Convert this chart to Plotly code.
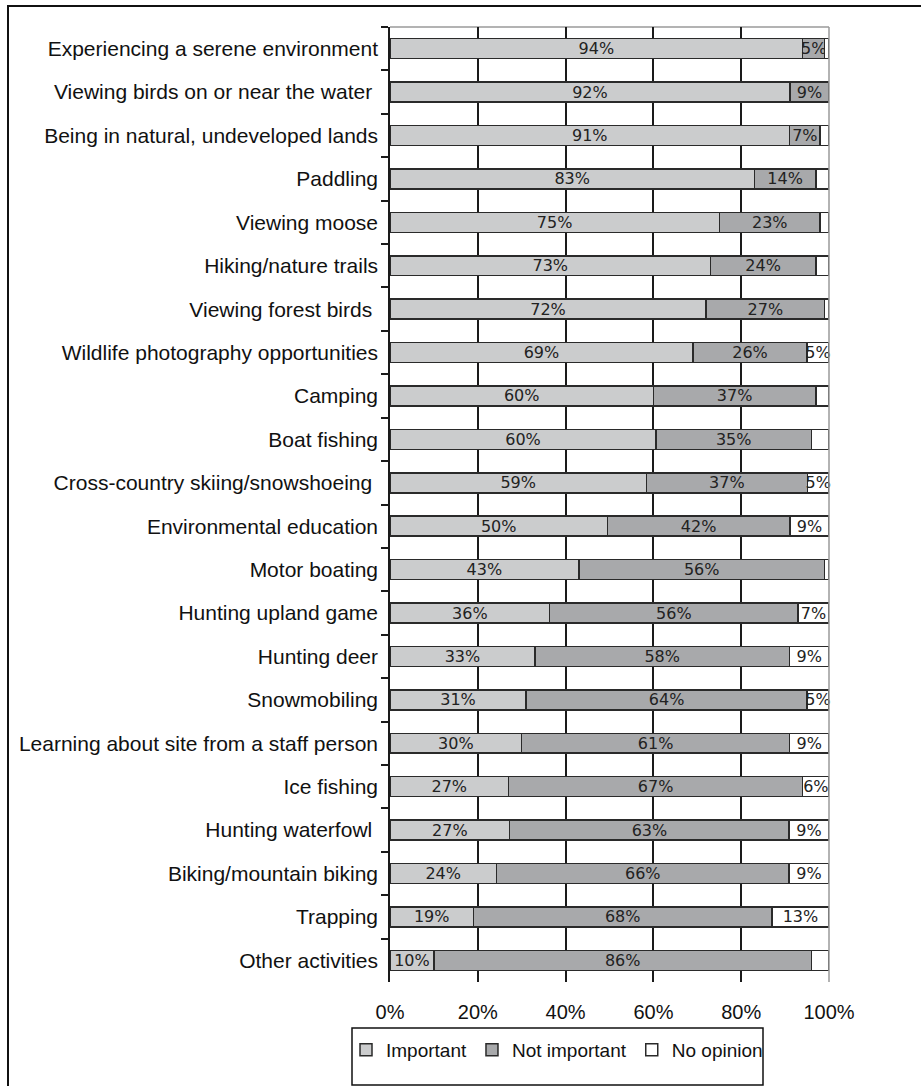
import plotly.graph_objects as go

activities = [
    "Experiencing a serene environment",
    "Viewing birds on or near the water ",
    "Being in natural, undeveloped lands",
    "Paddling",
    "Viewing moose",
    "Hiking/nature trails",
    "Viewing forest birds ",
    "Wildlife photography opportunities",
    "Camping",
    "Boat fishing",
    "Cross-country skiing/snowshoeing ",
    "Environmental education",
    "Motor boating",
    "Hunting upland game",
    "Hunting deer",
    "Snowmobiling",
    "Learning about site from a staff person",
    "Ice fishing",
    "Hunting waterfowl ",
    "Biking/mountain biking",
    "Trapping",
    "Other activities",
]
important = [94, 92, 91, 83, 75, 73, 72, 69, 60, 60, 59, 50, 43, 36, 33, 31, 30, 27, 27, 24, 19, 10]
not_important = [5, 9, 7, 14, 23, 24, 27, 26, 37, 35, 37, 42, 56, 56, 58, 64, 61, 67, 63, 66, 68, 86]
no_opinion = [1, 0, 2, 3, 2, 3, 1, 5, 3, 4, 5, 9, 1, 7, 9, 5, 9, 6, 9, 9, 13, 4]
x_ticks = [0, 20, 40, 60, 80, 100]
x_tick_labels = ["0%", "20%", "40%", "60%", "80%", "100%"]

series = [
    ("Important", important, "#cbcccd", lambda v: f"{v}%"),
    ("Not important", not_important, "#a8a9ab", lambda v: f"{v}%"),
    ("No opinion", no_opinion, "#ffffff", lambda v: f"{v}%" if v >= 5 else ""),
]

W, H = 921, 1086
L, R, T, B = 390, 829, 27, 982

fig = go.Figure()
for name, vals, color, fmt in series:
    fig.add_trace(go.Bar(
        name=name, y=activities, x=vals, orientation="h",
        marker=dict(color=color, line=dict(color="#2a2a2a", width=1.5)),
        text=[fmt(v) for v in vals], textposition="inside",
        insidetextanchor="middle", cliponaxis=False,
        textfont=dict(family="DejaVu Sans", size=16, color="#222222"),
        hoverinfo="skip",
    ))

def px(x):
    return (x - L) / (R - L)

def py(y):
    return (B - y) / (B - T)

fig.update_layout(
    width=W, height=H,
    margin=dict(l=L, r=W - R, t=T, b=H - B, pad=0),
    barmode="stack", barnorm="percent", bargap=0.54,
    plot_bgcolor="white", paper_bgcolor="white",
    uniformtext=dict(minsize=16, mode="show"),
    font=dict(family="Liberation Sans, Arial", size=20, color="#111111"),
    xaxis=dict(range=[0, 100.0005], tickvals=x_ticks, ticktext=x_tick_labels,
               showgrid=True, gridcolor="#1a1a1a", gridwidth=1.5,
               zeroline=False, showline=False, ticks="",
               ticklabelstandoff=16,
               tickfont=dict(size=20, color="#111111")),
    yaxis=dict(autorange="reversed", showline=True, linecolor="#1a1a1a",
               linewidth=1.5, ticks="outside", ticklen=7, tickwidth=1.5,
               tickcolor="#1a1a1a", tickson="boundaries", showgrid=False,
               ticklabelstandoff=6,
               tickfont=dict(size=21, color="#111111")),
    legend=dict(orientation="h", x=px(557), xanchor="center",
                y=py(1050), yanchor="middle", bgcolor="rgba(0,0,0,0)",
                borderwidth=0,
                font=dict(size=19, color="#111111"), itemwidth=30,
                traceorder="normal"),
    shapes=[
        dict(type="line", xref="paper", yref="paper", x0=0, x1=1, y0=1, y1=1,
             line=dict(color="#9a9a9a", width=1.5), layer="below"),
        dict(type="line", xref="paper", yref="paper", x0=1, x1=1, y0=0, y1=1,
             line=dict(color="#9a9a9a", width=1.5), layer="above"),
        dict(type="rect", xref="paper", yref="paper",
             x0=px(8), x1=px(940), y0=py(1100), y1=py(6),
             line=dict(color="#111111", width=2), layer="below"),
        dict(type="rect", xref="paper", yref="paper",
             x0=px(352), x1=px(763), y0=py(1085), y1=py(1028),
             line=dict(color="#111111", width=1.5), layer="below"),
    ],
)

fig.write_html("out.html", config={"displayModeBar": False},
               post_script="document.body.style.margin='0';")
